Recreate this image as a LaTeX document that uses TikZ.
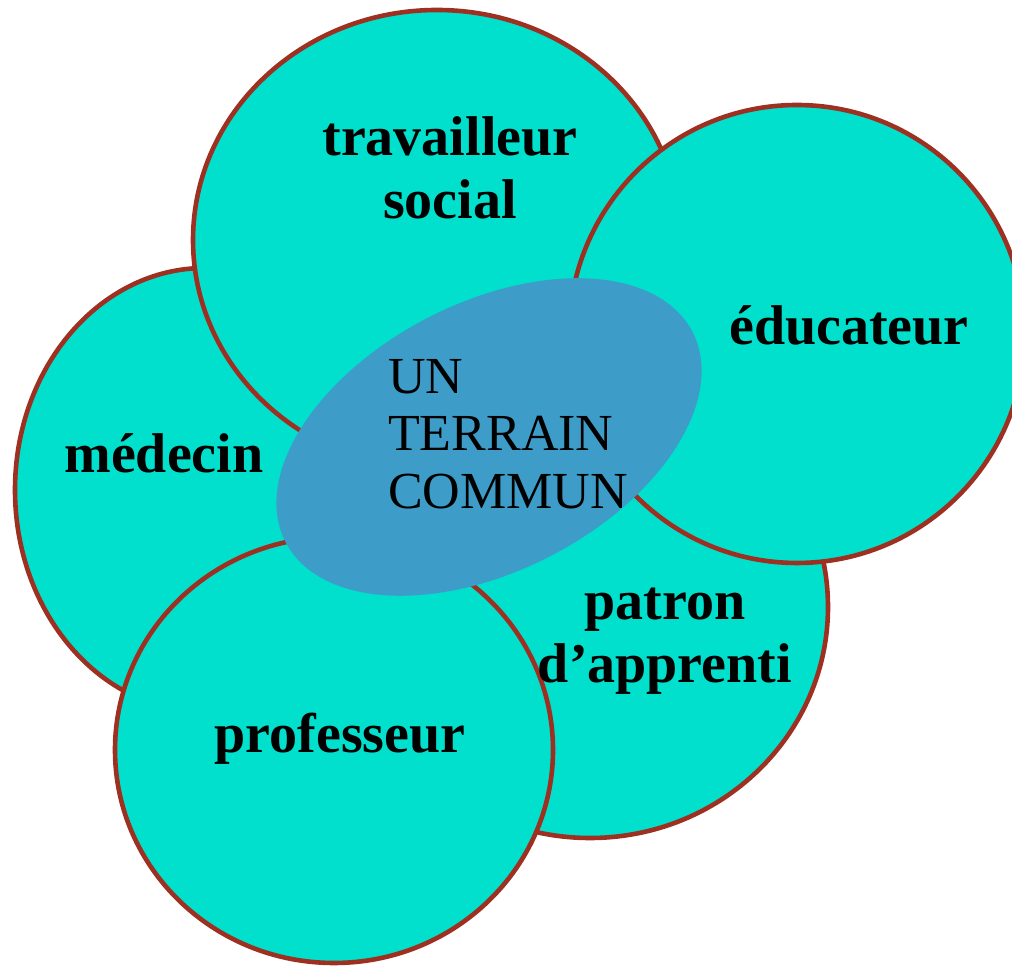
\documentclass[tikz,border=0pt]{standalone}
\usepackage{fontspec}
\setmainfont{Liberation Serif}
\definecolor{colF}{RGB}{0,224,204}
\definecolor{colE}{RGB}{158,48,34}
\definecolor{colC}{RGB}{61,157,200}
\tikzstyle{bulle}=[fill=colF, draw=colE, line width=4.6pt]
\tikzstyle{mot}=[font=\fontsize{56}{63}\selectfont\bfseries, align=center, inner sep=0pt]
\tikzstyle{centre}=[font=\fontsize{52}{57.5}\selectfont, align=left, inner sep=0pt]
\begin{document}
\begin{tikzpicture}[x=1pt,y=1pt]
	\useasboundingbox (0,0) rectangle (1012,966);
	\clip (0,0) rectangle (1012,966);
	\filldraw[bulle] (205,476) ellipse [x radius=190, y radius=222];
	\filldraw[bulle] (437,726) ellipse [x radius=244, y radius=230];
	\filldraw[bulle] (590,359) ellipse [x radius=238, y radius=231];
	\filldraw[bulle] (334,216) ellipse [x radius=219, y radius=213];
	\filldraw[bulle] (797,632) ellipse [x radius=228, y radius=229];
	\fill[colC, rotate around={27.3:(489,529)}] (489,529) ellipse [x radius=229, y radius=134];
	\node[mot, anchor=base] (medecin) at (164,493) {médecin};
	\node[mot, anchor=base] (educateur) at (849,621) {éducateur};
	\node[mot, anchor=base] (professeur) at (340,213) {professeur};
	\node[mot] (travailleur) at (450,798) {travailleur\\social};
	\node[mot] (patron) at (665,325) {patron\\d’apprenti};
	\node[centre, anchor=north west] (terrain) at (388,607) {UN\\TERRAIN\\COMMUN};
\end{tikzpicture}
\end{document}
